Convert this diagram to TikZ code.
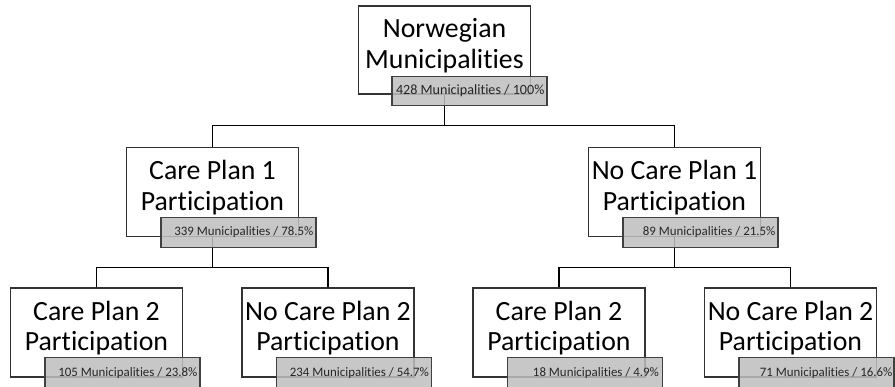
\documentclass[tikz,border=0pt]{standalone}
\usepackage{fontspec}
\setmainfont{Carlito}[Ligatures={NoCommon,NoContextual,NoRare}]
\definecolor{taggrey}{RGB}{190,190,190}
\begin{document}
\begin{tikzpicture}[x=1pt,y=-1pt,
  box/.style={draw=black!80, line width=1.3pt, fill=white, minimum width=172pt, minimum height=89pt, inner sep=0pt},
  bigtext/.style={font=\fontsize{27.8}{30.5}\selectfont, align=center, inner sep=0pt, text=black},
  tag/.style={draw=black!75, line width=1.2pt, fill=taggrey, fill opacity=0.85, text opacity=1,
    minimum width=155pt, minimum height=30pt, inner sep=0pt},
  tagtext/.style={anchor=east, inner sep=0pt, font=\fontsize{12.9}{15}\selectfont, text=black!85},
  link/.style={line width=1.2pt, draw=black}]
\useasboundingbox (0,0) rectangle (895,387);
% boxes
\node[box, minimum height=88pt] (n0) at (444.5,50) {};
\node[box] (n1) at (212.5,192) {};
\node[box] (n2) at (674.5,192) {};
\node[box] (n3) at (96.5,332.5) {};
\node[box] (n4) at (328,332.5) {};
\node[box] (n5) at (559,332.5) {};
\node[box] (n6) at (790.5,332.5) {};
% titles
\node[bigtext] (t0) at ([yshift=4.5pt]n0.center) {Norwegian\\Municipalities};
\node[bigtext] (t1) at ([yshift=4.5pt]n1.center) {Care Plan 1\\Participation};
\node[bigtext] (t2) at ([yshift=4.5pt]n2.center) {No Care Plan 1\\Participation};
\node[bigtext] (t3) at ([yshift=4.5pt]n3.center) {Care Plan 2\\Participation};
\node[bigtext] (t4) at ([yshift=4.5pt]n4.center) {No Care Plan 2\\Participation};
\node[bigtext] (t5) at ([yshift=4.5pt]n5.center) {Care Plan 2\\Participation};
\node[bigtext] (t6) at ([yshift=4.5pt]n6.center) {No Care Plan 2\\Participation};
% connectors
\draw[link] (n0.south) -- ++(0,31) coordinate (j0);
\draw[link] (n1.north) |- (j0) -| (n2.north);
\draw[link] (n1.south) -- ++(0,30) coordinate (j1);
\draw[link] (n3.north) |- (j1) -| (n4.north);
\draw[link] (n2.south) -- ++(0,30) coordinate (j2);
\draw[link] (n5.north) |- (j2) -| (n6.north);
% tags
\node[tag, minimum height=29pt] (g0) at ([xshift=25pt,yshift=3.5pt]n0.south) {};
\node[tag] (g1) at ([xshift=26pt,yshift=5pt]n1.south) {};
\node[tag] (g2) at ([xshift=26pt,yshift=5pt]n2.south) {};
\node[tag] (g3) at ([xshift=26pt,yshift=5pt]n3.south) {};
\node[tag] (g4) at ([xshift=26pt,yshift=5pt]n4.south) {};
\node[tag] (g5) at ([xshift=26pt,yshift=5pt]n5.south) {};
\node[tag] (g6) at ([xshift=26pt,yshift=5pt]n6.south) {};
\node[tagtext, font=\fontsize{14.1}{16}\selectfont] (s0) at ([xshift=-3pt]g0.east) {428 Municipalities / 100\%};
\node[tagtext] (s1) at ([xshift=-3pt]g1.east) {339 Municipalities / 78.5\%};
\node[tagtext] (s2) at ([xshift=-3pt]g2.east) {89 Municipalities / 21.5\%};
\node[tagtext] (s3) at ([xshift=-3pt]g3.east) {105 Municipalities / 23.8\%};
\node[tagtext] (s4) at ([xshift=-3pt]g4.east) {234 Municipalities / 54.7\%};
\node[tagtext] (s5) at ([xshift=-4pt]g5.east) {18 Municipalities / 4.9\%};
\node[tagtext] (s6) at ([xshift=-2pt]g6.east) {71 Municipalities / 16.6\%};
\end{tikzpicture}
\end{document}
